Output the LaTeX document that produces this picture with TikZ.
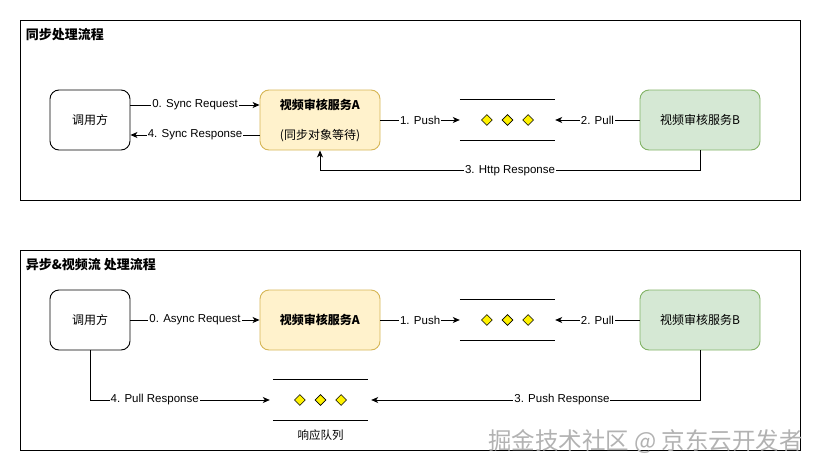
\documentclass[tikz,border=0pt]{standalone}
\usepackage{fontspec}
\setmainfont{Liberation Sans}
\newfontfamily\cjk{Noto Sans CJK SC}
\usetikzlibrary{positioning,arrows.meta,shapes.geometric}
\definecolor{fillA}{HTML}{FFF2CC}
\definecolor{lineA}{HTML}{D6B656}
\definecolor{fillB}{HTML}{D5E8D4}
\definecolor{lineB}{HTML}{82B366}
\tikzset{
  frame/.style={draw, line width=0.9pt, inner sep=0pt},
  title/.style={anchor=west, inner sep=0pt, font=\cjk\bfseries\fontsize{13}{15}\selectfont},
  box/.style={draw, rounded corners=9pt, line width=0.9pt, minimum width=120pt, minimum height=60pt, align=center, font=\cjk\fontsize{12}{15}\selectfont},
  caller/.style={box, minimum width=80pt},
  svcA/.style={box, fill=fillA, draw=lineA},
  svcB/.style={box, fill=fillB, draw=lineB},
  queue/.style={minimum width=95pt, minimum height=40pt, inner sep=0pt},
  gem/.style={diamond, draw, fill=yellow, line width=0.6pt, inner sep=0pt, minimum size=11pt},
  flow/.style={line width=0.9pt, -{Stealth[length=7pt,width=6pt,inset=2pt]}},
  lbl/.style={fill=white, inner sep=1pt, font=\fontsize{11.5}{13}\selectfont},
}
\begin{document}
\begin{tikzpicture}[x=1pt,y=-1pt]
    \useasboundingbox (0,0) rectangle (821,471);
    % sync
    \node[frame, minimum width=780pt, minimum height=180pt] (frameSync) at (410,110) {};
    \node[title] (tSync) at ([xshift=6pt,yshift=-15pt]frameSync.north west) {同步处理流程};
    \node[caller] (callS) at (90,120) {调用方};
    \node[svcA] (svcAS) at (320,120) {\textbf{视频审核服务A}\\[15pt](同步对象等待)};
    \node[queue] (qS) at (507.5,120) {};
    \node[svcB] (svcBS) at (700,120) {视频审核服务B};
    \draw[line width=0.9pt] (qS.north west) -- (qS.north east) (qS.south west) -- (qS.south east);
    \node[gem] (gS2) at (qS) {};
    \node[gem, left=9pt of gS2] (gS1) {};
    \node[gem, right=9pt of gS2] (gS3) {};
    \draw[flow] ([yshift=15pt]callS.east) -- node[lbl]{0. Sync Request} ([yshift=15pt]svcAS.west);
    \draw[flow] ([yshift=-15pt]svcAS.west) -- node[lbl]{4. Sync Response} ([yshift=-15pt]callS.east);
    \draw[flow] (svcAS.east) -- node[lbl]{1. Push} (qS.west);
    \draw[flow] (svcBS.west) -- node[lbl]{2. Pull} (qS.east);
    \draw[flow] (svcBS.south) -- ++(0,20) -| node[lbl,pos=0.25]{3. Http Response} (svcAS.south);
    % async
    \node[frame, minimum width=780pt, minimum height=200pt] (frameAsync) at (410,350) {};
    \node[title] (tAsync) at ([xshift=6pt,yshift=-15pt]frameAsync.north west) {异步\&视频流 处理流程};
    \node[caller] (callA) at (90,320) {调用方};
    \node[svcA] (svcAA) at (320,320) {\textbf{视频审核服务A}};
    \node[queue] (qA) at (507.5,320) {};
    \node[svcB] (svcBA) at (700,320) {视频审核服务B};
    \draw[line width=0.9pt] (qA.north west) -- (qA.north east) (qA.south west) -- (qA.south east);
    \node[gem] (gA2) at (qA) {};
    \node[gem, left=9pt of gA2] (gA1) {};
    \node[gem, right=9pt of gA2] (gA3) {};
    \node[queue] (qR) at (320.5,400) {};
    \draw[line width=0.9pt] (qR.north west) -- (qR.north east) (qR.south west) -- (qR.south east);
    \node[gem] (gR2) at (qR) {};
    \node[gem, left=9pt of gR2] (gR1) {};
    \node[gem, right=9pt of gR2] (gR3) {};
    \node[font=\cjk\fontsize{11.5}{13}\selectfont, below=6pt of qR] (tR) {响应队列};
    \draw[flow] (callA.east) -- node[lbl]{0. Async Request} (svcAA.west);
    \draw[flow] (svcAA.east) -- node[lbl]{1. Push} (qA.west);
    \draw[flow] (svcBA.west) -- node[lbl]{2. Pull} (qA.east);
    \draw[flow] (svcBA.south) |- node[lbl,pos=0.71]{3. Push Response} ([xshift=3pt]qR.east);
    \draw[flow] (callA.south) |- node[lbl,pos=0.68]{4. Pull Response} ([xshift=-3pt]qR.west);
    \node[text=gray!60, font=\cjk\fontsize{23.5}{25}\selectfont, anchor=east, inner sep=0pt] (wm) at (803,442) {掘金技术社区 @ 京东云开发者};
\end{tikzpicture}
\end{document}
